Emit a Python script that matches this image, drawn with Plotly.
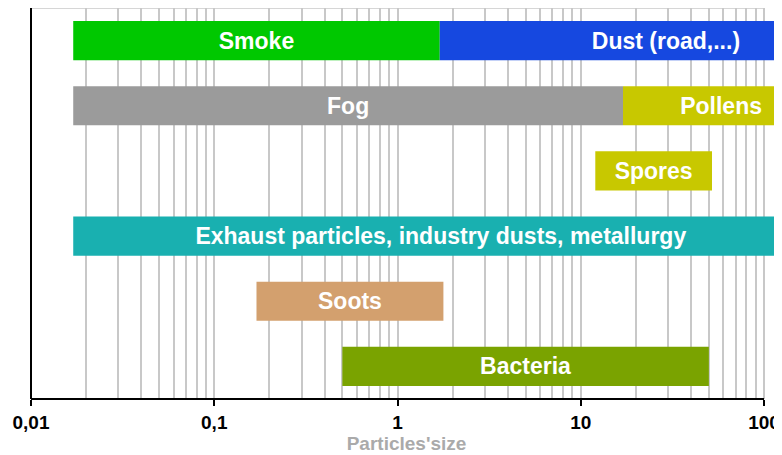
import plotly.graph_objects as go

# Data
rows = ["r1", "r1", "r2", "r2", "r3", "r4", "r5", "r6"]
labels = ["Smoke", "Dust (road,...)", "Fog", "Pollens", "Spores",
          "Exhaust particles, industry dusts, metallurgy", "Soots", "Bacteria"]
size_min = [0.017, 1.7, 0.017, 17, 12, 0.017, 0.17, 0.5]
size_max = [1.7, 500, 17, 200, 52, 175, 1.78, 50]
colors = ["#00c800", "#1648e0", "#9b9b9b", "#c8c800", "#c8c800",
          "#19b0b0", "#d3a06e", "#7aa300"]
tick_vals = [0.01, 0.1, 1, 10, 100]
tick_text = ["0,01", "0,1", "1", "10", "100"]
row_order = ["r1", "r2", "r3", "r4", "r5", "r6"]

FONT = "Liberation Sans"

fig = go.Figure()
for r, lab, a, b, c in zip(rows, labels, size_min, size_max, colors):
    fig.add_trace(go.Bar(
        y=[r], x=[b - a], base=[a], orientation="h",
        marker=dict(color=c, line=dict(width=0)),
        text=[lab], textposition="inside", insidetextanchor="middle",
        textfont=dict(family=FONT, size=23, color="white", weight="bold"),
        width=0.6, showlegend=False, cliponaxis=True,
    ))

x_end_log = 2.098
frac100 = (2 + 2) / (2 + x_end_log)

fig.update_layout(
    width=774, height=447,
    margin=dict(l=23, r=0, t=0, b=56),
    paper_bgcolor="white", plot_bgcolor="white",
    barmode="overlay",
    uniformtext=dict(mode=False),
    xaxis=dict(
        type="log", range=[-2, x_end_log],
        tickvals=tick_vals, ticktext=tick_text,
        tickfont=dict(family=FONT, size=19, color="black", weight="bold"),
        ticks="outside", ticklen=6, tickcolor="black", tickwidth=2,
        showgrid=True, gridcolor="#c8c8c8", gridwidth=1.5,
        minor=dict(dtick="D1", showgrid=True, gridcolor="#c8c8c8", gridwidth=1.5, ticks=""),
        showline=False, zeroline=False,
        title=dict(text="Particles'size",
                   font=dict(family=FONT, size=19, color="#aaaaaa", weight="bold"),
                   standoff=2),
        layer="below traces",
    ),
    yaxis=dict(
        type="category", categoryorder="array", categoryarray=row_order,
        autorange="reversed", showticklabels=False, showgrid=False,
        zeroline=False, showline=False, ticks="",
    ),
    shapes=[
        dict(type="line", xref="paper", yref="paper", x0=0, x1=frac100, y0=0, y1=0,
             line=dict(color="black", width=2)),
        dict(type="line", xref="paper", yref="paper", x0=0, x1=0, y0=0, y1=1,
             line=dict(color="black", width=2)),
        dict(type="line", xref="paper", yref="paper", x0=0, x1=frac100, y0=1, y1=1,
             line=dict(color="#c8c8c8", width=1.5), layer="below"),
    ],
)

fig.write_html("out.html")
